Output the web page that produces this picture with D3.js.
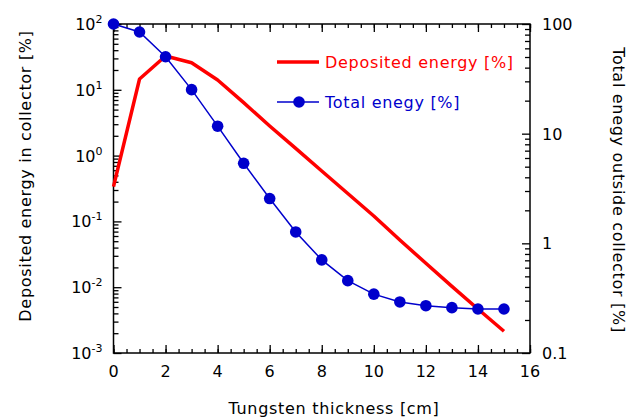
<!DOCTYPE html>
<html>
<head>
<meta charset="utf-8">
<script src="https://cdn.jsdelivr.net/npm/d3@7"></script>
<style>
  body { margin: 0; background: #ffffff; }
  text { font-family: "DejaVu Sans", sans-serif; }
  .title { letter-spacing: 0.7px; }
</style>
</head>
<body>
<div id="chart"></div>
<script>
// thickness of tungsten [cm]
let thickness = [0, 1, 2, 3, 4, 5, 6, 7, 8, 9, 10, 11, 12, 13, 14, 15];
// deposited energy in collector [%] (left axis)
let deposited = [0.337, 14.6, 32.6, 25.8, 14.1, 6.37, 2.82, 1.29, 0.583, 0.265, 0.121, 0.0521, 0.0231, 0.0103, 0.00467, 0.00214];
// total energy outside collector [%] (right axis)
let totalEnergy = [100, 84.5, 50.3, 25.2, 11.7, 5.37, 2.56, 1.27, 0.706, 0.457, 0.344, 0.292, 0.270, 0.259, 0.252, 0.252];

let xTicks = [0, 2, 4, 6, 8, 10, 12, 14, 16];
let leftPowers = [-3, -2, -1, 0, 1, 2];
let rightTicks = [0.1, 1, 10, 100];
let legendLabels = ["Deposited energy [%]", "Total enegy [%]"];

let totalW = 629;
let totalH = 419;
let margin = {top: 24, right: 99, bottom: 66, left: 113.5};
let width = totalW - margin.left - margin.right;
let height = totalH - margin.top - margin.bottom;

let red = "#ff0000";
let blue = "#0000cc";

let svg = d3.select("#chart")
    .append("svg")
    .attr("width", totalW)
    .attr("height", totalH);

let g = svg.append("g")
    .attr("transform", `translate(${margin.left},${margin.top})`);

let x = d3.scaleLinear().domain([0, 16]).range([0, width]);
let yL = d3.scaleLog().domain([1e-3, 1e2]).range([height, 0]);
let yR = d3.scaleLog().domain([0.1, 100]).range([height, 0]);

// minor tick positions
let xMinor = d3.range(0, 16.01, 0.5);
let leftMinor = [];
leftPowers.slice(0, -1).forEach(p => {
    for (let k = 2; k <= 9; k++) leftMinor.push(k * Math.pow(10, p));
});
let rightMinor = [];
rightTicks.slice(0, -1).forEach(t => {
    for (let k = 2; k <= 9; k++) rightMinor.push(k * t);
});

/**
 * Draws an axis with ticks pointing into the plot.
 */
function drawAxis(axisFn, scale, values, size, transform) {
    let a = g.append("g")
        .attr("transform", transform)
        .call(axisFn(scale).tickValues(values).tickSize(-size).tickFormat(""));
    a.select(".domain").remove();
    a.selectAll("line").attr("stroke", "#000").attr("stroke-width", 1.3);
    return a;
}

// bottom + top
drawAxis(d3.axisBottom, x, xMinor, 4, `translate(0,${height})`);
drawAxis(d3.axisBottom, x, xTicks, 8, `translate(0,${height})`);
drawAxis(d3.axisTop, x, xMinor, 4, "translate(0,0)");
drawAxis(d3.axisTop, x, xTicks, 8, "translate(0,0)");
// left
drawAxis(d3.axisLeft, yL, leftMinor, 5, "translate(0,0)");
drawAxis(d3.axisLeft, yL, leftPowers.map(p => Math.pow(10, p)), 8, "translate(0,0)");
// right
drawAxis(d3.axisRight, yR, rightMinor, 5, `translate(${width},0)`);
drawAxis(d3.axisRight, yR, rightTicks, 8, `translate(${width},0)`);

// frame
g.append("rect")
    .attr("x", 0)
    .attr("y", 0)
    .attr("width", width)
    .attr("height", height)
    .attr("fill", "none")
    .attr("stroke", "#000")
    .attr("stroke-width", 1.5);

// x tick labels
g.selectAll(".xlab")
    .data(xTicks)
    .join("text")
    .attr("class", "xlab")
    .attr("x", d => x(d))
    .attr("y", height + 24)
    .attr("text-anchor", "middle")
    .attr("font-size", 16)
    .text(d => d);

// left tick labels 10^n
let ll = g.selectAll(".ylab")
    .data(leftPowers)
    .join("text")
    .attr("class", "ylab")
    .attr("x", -11)
    .attr("y", d => yL(Math.pow(10, d)) + 6)
    .attr("text-anchor", "end")
    .attr("font-size", 16);
ll.append("tspan").text("10");
ll.append("tspan")
    .attr("dy", -7)
    .attr("font-size", 11)
    .text(d => d < 0 ? "-" + (-d) : d);

// right tick labels
g.selectAll(".rlab")
    .data(rightTicks)
    .join("text")
    .attr("class", "rlab")
    .attr("x", width + 12)
    .attr("y", d => yR(d) + 6)
    .attr("font-size", 16)
    .text(d => d);

// axis titles
svg.append("text")
    .attr("class", "title")
    .attr("x", 334)
    .attr("y", 414)
    .attr("text-anchor", "middle")
    .attr("font-size", 16)
    .text("Tungsten thickness [cm]");

svg.append("text")
    .attr("class", "title")
    .attr("transform", "translate(31,176) rotate(-90)")
    .attr("text-anchor", "middle")
    .attr("font-size", 16)
    .text("Deposited energy in collector [%]");

svg.append("text")
    .attr("class", "title")
    .attr("transform", "translate(613,190) rotate(90)")
    .attr("text-anchor", "middle")
    .attr("font-size", 16)
    .text("Total enegy outside collector [%]");

// series
let depData = thickness.map((t, i) => ({x: t, y: deposited[i]}));
let totData = thickness.map((t, i) => ({x: t, y: totalEnergy[i]}));

g.append("path")
    .datum(depData)
    .attr("fill", "none")
    .attr("stroke", red)
    .attr("stroke-width", 3.5)
    .attr("stroke-linejoin", "round")
    .attr("d", d3.line().x(d => x(d.x)).y(d => yL(d.y)));

g.append("path")
    .datum(totData)
    .attr("fill", "none")
    .attr("stroke", blue)
    .attr("stroke-width", 1.5)
    .attr("d", d3.line().x(d => x(d.x)).y(d => yR(d.y)));

g.selectAll(".dot")
    .data(totData)
    .join("circle")
    .attr("class", "dot")
    .attr("cx", d => x(d.x))
    .attr("cy", d => yR(d.y))
    .attr("r", 5.8)
    .attr("fill", blue);

// legend
let legend = svg.append("g");
legend.append("line")
    .attr("x1", 277).attr("x2", 319)
    .attr("y1", 62).attr("y2", 62)
    .attr("stroke", red).attr("stroke-width", 3.5);
legend.append("text")
    .attr("class", "title")
    .attr("x", 325).attr("y", 68)
    .attr("font-size", 16)
    .attr("fill", red)
    .text(legendLabels[0]);
legend.append("line")
    .attr("x1", 277).attr("x2", 319)
    .attr("y1", 102).attr("y2", 102)
    .attr("stroke", blue).attr("stroke-width", 1.5);
legend.append("circle")
    .attr("cx", 299).attr("cy", 102).attr("r", 5.8)
    .attr("fill", blue);
legend.append("text")
    .attr("class", "title")
    .attr("x", 325).attr("y", 108)
    .attr("font-size", 16)
    .attr("fill", blue)
    .text(legendLabels[1]);
</script>
</body>
</html>
